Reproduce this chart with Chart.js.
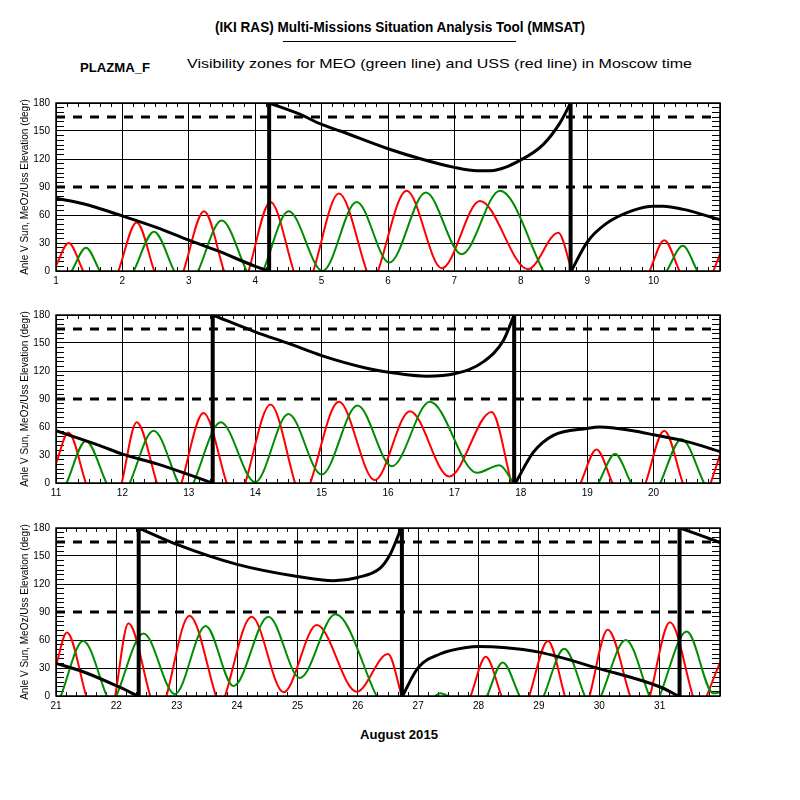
<!DOCTYPE html>
<html>
<head>
<meta charset="utf-8">
<script src="https://cdn.jsdelivr.net/npm/chart.js@4.4.0/dist/chart.umd.min.js"></script>
<style>
  body { margin: 0; background: #fff; }
  #page { position: relative; width: 800px; height: 800px; background: #fff; overflow: hidden; }
  canvas { position: absolute; left: 0; }
  .txt { position: absolute; white-space: nowrap; color: #000; line-height: 1;
         font-family: "Liberation Sans", Arial, sans-serif; transform-origin: left center; }
  #rule { position: absolute; left: 283px; top: 41px; width: 233px; height: 1px; background: #000; }
</style>
</head>
<body>
<div id="page">
  <div class="txt" id="title" style="font-weight:bold;font-size:14px">(IKI RAS) Multi-Missions Situation Analysis Tool (MMSAT)</div>
  <div id="rule"></div>
  <div class="txt" id="sat" style="font-weight:bold;font-size:13px">PLAZMA_F</div>
  <div class="txt" id="sub" style="font-size:13px">Visibility zones for MEO (green line) and USS (red line) in Moscow time</div>
  <div class="txt" id="month" style="font-weight:bold;font-size:13px">August 2015</div>
  <canvas id="p1"></canvas>
  <canvas id="p2"></canvas>
  <canvas id="p3"></canvas>
</div>
<script>
// y levels of the dashed reference lines
const refLevels = [90, 165];
const yTitle = "Anle V Sun, MeOz/Uss Elevation (degr)";

// panel 1: 1 - 11 August
const red1 = [[1,6],[1.19,30],[1.41,0], null,
  [1.94,0],[2.215,52],[2.48,0], null,
  [2.92,0],[3.23,64],[3.53,0], null,
  [3.9,0],[4.23,74],[4.58,0], null,
  [4.875,0],[5.26,83],[5.68,0], null,
  [5.85,0],[6.28,86],[6.81,3],[7.385,75],[8.11,2],[8.565,41],[8.77,0], null,
  [9.94,0],[10.16,33],[10.39,0], null,
  [10.9,0],[11,18]];
const green1 = [[1.236,0],[1.452,25],[1.66,0], null,
  [2.17,0],[2.476,42],[2.78,0], null,
  [3.14,0],[3.495,54],[3.87,0], null,
  [4.12,0],[4.504,64],[5.016,0],[5.528,74],[6.02,9],[6.57,84],[7.11,18],[7.687,86],[8.34,0], null,
  [10.197,0],[10.44,27],[10.66,0]];
const sun1 = [[1,78],[1.41,72],[2,59],[2.5,47],[3,33],[3.42,22],[4,5],[4.2,0], null,
  [4.21,180],[4.67,168],[5,157],[5.28,150],[6,131],[6.5,120],[7,111],
  [7.34,107.5],[7.54,107.5],[8,119],[8.34,135.7],[8.59,158.7],[8.75,180], null,
  [8.76,0],[9,31],[9.29,51],[9.69,65],[10,69.5],[10.15,69.5],[10.45,66],[11,55]];
const jumps1 = [4.21, 8.75];

// panel 2: 11 - 21 August
const red2 = [[11,21],[11.186,54],[11.45,0], null,
  [11.99,0],[12.215,65],[12.52,0], null,
  [12.89,0],[13.22,75],[13.57,0], null,
  [13.85,0],[14.23,84],[14.6,0], null,
  [14.83,0],[15.26,87],[15.8,3],[16.33,77],[16.92,7],[17.56,76],[17.86,0], null,
  [18.9,0],[19.14,36],[19.38,0], null,
  [19.88,0],[20.16,56],[20.44,0], null,
  [20.86,0],[21,30]];
const green2 = [[11.16,0],[11.45,45],[11.76,0], null,
  [12.11,0],[12.47,56],[12.84,0], null,
  [13.07,0],[13.48,65],[14.0,1],[14.5,74],[15.0,9],[15.54,83],[16.06,18],[16.63,87],[17.34,11],[17.68,19],[17.89,0], null,
  [19.17,0],[19.42,31],[19.66,0], null,
  [20.1,0],[20.42,47],[20.76,0]];
const sun2 = [[11,56],[11.66,40],[12,31],[12.52,20.5],[13,9],[13.35,0], null,
  [13.36,180],[14,162],[14.52,149],[15,136.5],[15.68,123],[16.18,117],[16.58,114.5],[17,117],
  [17.44,130],[17.74,153],[17.9,180], null,
  [17.92,0],[18.19,33],[18.49,51],[19,58.5],[19.19,60],[19.69,56],[20,51.7],[20.5,44.3],[21,33.7]];
const jumps2 = [13.36, 17.9];

// panel 3: 21 August - 1 September
const red3 = [[21,33],[21.18,68],[21.5,0], null,
  [21.98,0],[22.2,78],[22.56,0], null,
  [22.83,0],[23.21,86],[23.65,0], null,
  [23.8,0],[24.24,85],[24.77,4],[25.32,76],[25.98,4.6],[26.5,45],[26.73,0], null,
  [27.87,0],[28.12,42],[28.38,0], null,
  [28.84,0],[29.15,59],[29.43,0], null,
  [29.84,0],[30.14,71],[30.51,0], null,
  [30.84,0],[31.17,79],[31.55,0], null,
  [31.78,0],[32,36]];
const green3 = [[21.08,0],[21.45,59],[21.84,0], null,
  [22.0,0],[22.45,67],[22.97,2],[23.48,75],[23.94,10.6],[24.52,85],[25.04,19.4],[25.63,87.5],[26.31,0], null,
  [27.28,0],[27.37,3],[27.5,0], null,
  [28.14,0],[28.4,36],[28.68,0], null,
  [29.08,0],[29.42,50.5],[29.76,0], null,
  [30.03,0],[30.44,60],[30.83,0], null,
  [31.0,0],[31.45,69],[31.89,3],[32,4]];
const sun3 = [[21,35],[21.45,26],[22,11],[22.36,0], null,
  [22.37,180],[23,162.4],[24,141],[25,128],[25.6,123.5],[26,127],[26.37,137],[26.53,151],[26.72,180], null,
  [26.74,0],[27,30.4],[27.36,45],[27.8,52],[28,53],[28.41,52],[29,47],[30,29.3],[31,9.9],[31.31,0], null,
  [31.34,180],[32,164.5]];
const jumps3 = [22.37, 26.73, 31.33];

const FONT = '"Liberation Sans", Arial, sans-serif';

function toXY(arr) {
  return arr.map((p, i) => p ? { x: p[0], y: p[1] } : { x: arr[i - 1][0], y: null });
}

function jumpLines(xs) {
  const out = [];
  xs.forEach(x => { out.push({ x: x, y: 0 }, { x: x, y: 180 }, { x: x, y: null }); });
  return out;
}

// zero-size axes whose tick marks point into the plot (IDL style minor ticks)
function minorAxis(position, min, max, step, len) {
  const vertical = position === 'left' || position === 'right';
  return {
    type: 'linear', position, min, max, weight: 0,
    afterFit: s => { if (vertical) s.width = 0; else s.height = 0; },
    border: { display: false },
    ticks: { display: false, stepSize: step, autoSkip: false },
    grid: { drawOnChartArea: false, drawTicks: true, tickLength: -len, color: '#000', lineWidth: 1 }
  };
}

const frame = {
  id: 'frame',
  afterDraw(chart) {
    const { ctx, chartArea: a } = chart;
    ctx.save();
    ctx.strokeStyle = '#000';
    ctx.lineWidth = 1.5;
    ctx.setLineDash([]);
    ctx.strokeRect(a.left, a.top, a.right - a.left, a.bottom - a.top);
    ctx.restore();
  }
};

function makePanel(id, top, xMin, xMax, red, green, sun, jumps) {
  const canvas = document.getElementById(id);
  canvas.width = 800; canvas.height = 210;
  canvas.style.width = '800px'; canvas.style.height = '210px';
  canvas.style.top = (top - 12) + 'px';

  const ax = { xAxisID: 'x', yAxisID: 'y' };
  const datasets = [
    { ...ax, data: jumpLines(jumps), borderColor: '#000', borderWidth: 4, order: 0 },
    { ...ax, data: toXY(sun), borderColor: '#000', borderWidth: 3, cubicInterpolationMode: 'monotone', order: 1 },
  ];
  refLevels.forEach(l => datasets.push({
    ...ax, data: [{ x: xMin, y: l }, { x: xMax, y: l }],
    borderColor: '#000', borderWidth: 3, borderDash: [9, 8], order: 2
  }));
  datasets.push({ ...ax, data: toXY(green), borderColor: '#008c00', borderWidth: 2, cubicInterpolationMode: 'monotone', order: 3 });
  datasets.push({ ...ax, data: toXY(red), borderColor: '#ff0000', borderWidth: 2, cubicInterpolationMode: 'monotone', order: 4 });

  return new Chart(canvas, {
    type: 'line',
    data: { datasets },
    options: {
      responsive: false,
      animation: false,
      spanGaps: false,
      elements: { point: { radius: 0 }, line: { tension: 0 } },
      layout: { padding: { top: 10, right: 80, bottom: 0, left: 0 } },
      plugins: { legend: { display: false }, tooltip: { enabled: false } },
      scales: {
        x: {
          type: 'linear', min: xMin, max: xMax, weight: 1,
          afterFit: s => { s.height = 30; },
          border: { display: false },
          grid: { color: '#000', lineWidth: 1, drawTicks: false },
          ticks: {
            stepSize: 1, autoSkip: false, maxRotation: 0, padding: 4, color: '#000',
            font: { family: FONT, size: 10 },
            callback: v => (v >= xMax ? '' : v)
          }
        },
        y: {
          min: 0, max: 180, weight: 1,
          afterFit: s => { s.width = 56; },
          border: { display: false },
          grid: { color: c => (c.tick && c.tick.value === 90 ? 'rgba(0,0,0,0)' : '#000'), lineWidth: 1, drawTicks: false },
          ticks: { stepSize: 30, padding: 6, color: '#000', font: { family: FONT, size: 10 } },
          title: { display: true, text: yTitle, color: '#000', font: { family: FONT, size: 10 }, padding: { top: 19, bottom: 0 } }
        },
        yMinL: minorAxis('left', 0, 180, 5, 8),
        yMinR: minorAxis('right', 0, 180, 5, 8),
        xMinB: minorAxis('bottom', xMin, xMax, 1 / 6, 4),
        xMinT: minorAxis('top', xMin, xMax, 1 / 6, 4)
      }
    },
    plugins: [frame]
  });
}

makePanel('p1', 103, 1, 11, red1, green1, sun1, jumps1);
makePanel('p2', 315, 11, 21, red2, green2, sun2, jumps2);
makePanel('p3', 528, 21, 32, red3, green3, sun3, jumps3);

// place text so it spans the same width as in the picture
function fit(id, x0, x1, yc) {
  const el = document.getElementById(id);
  el.style.left = x0 + 'px';
  el.style.top = yc + 'px';
  const w = el.getBoundingClientRect().width;
  el.style.transform = 'translateY(-50%) scaleX(' + ((x1 - x0) / w) + ')';
}
fit('title', 215, 585, 27);
fit('sat', 80, 150, 67);
fit('sub', 187, 692, 63);
fit('month', 360, 438, 734);
</script>
</body>
</html>
